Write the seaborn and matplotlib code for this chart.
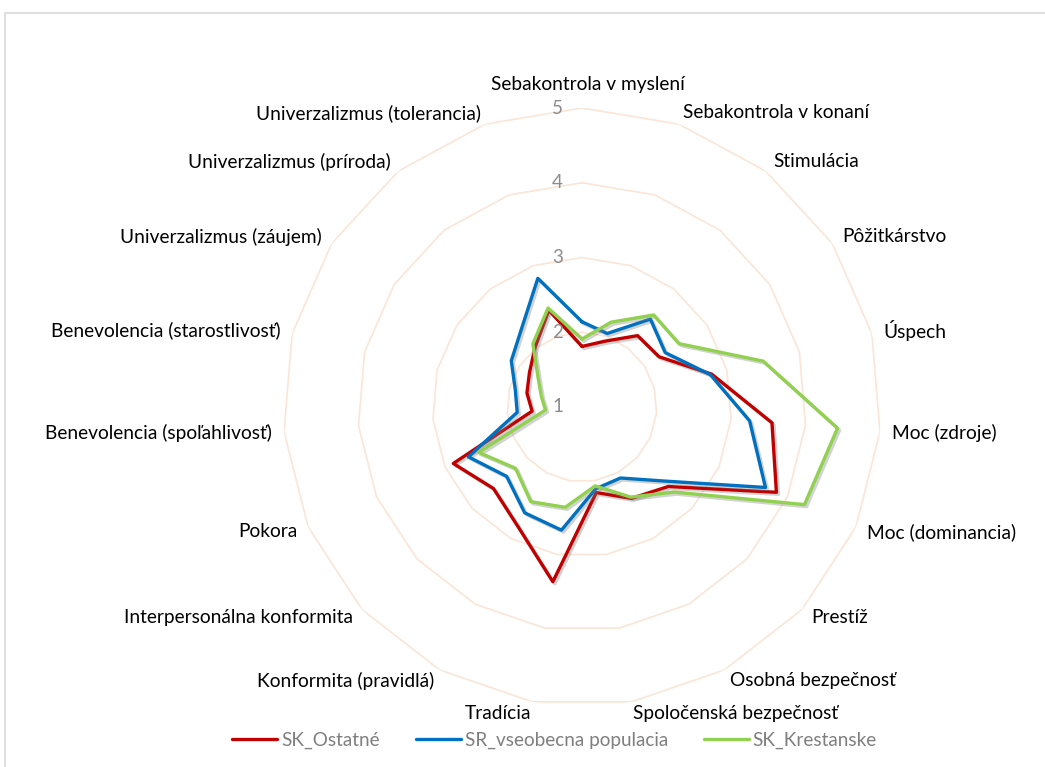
import numpy as np
import pandas as pd
import seaborn as sns
import matplotlib.pyplot as plt
import matplotlib.patheffects as pe
from matplotlib.lines import Line2D
from matplotlib.patches import Rectangle
from matplotlib.transforms import offset_copy

# categorias (en el orden del grafico, empezando arriba y en sentido horario)
kategorie = ["Sebakontrola v myslení", "Sebakontrola v konaní", "Stimulácia", "Pôžitkárstvo",
             "Úspech", "Moc (zdroje)", "Moc (dominancia)", "Prestíž", "Osobná bezpečnosť",
             "Spoločenská bezpečnosť", "Tradícia", "Konformita (pravidlá)",
             "Interpersonálna konformita", "Pokora", "Benevolencia (spoľahlivosť)",
             "Benevolencia (starostlivosť)", "Univerzalizmus (záujem)",
             "Univerzalizmus (príroda)", "Univerzalizmus (tolerancia)"]

sk_ostatne = [1.81, 1.93, 2.21, 2.23, 2.79, 3.55, 3.84, 2.57, 2.39, 2.16,
              3.37, 2.81, 2.61, 2.88, 1.67, 1.76, 1.84, 2.02, 2.37]
sr_populacia = [2.14, 2.04, 2.49, 2.33, 2.77, 3.25, 3.68, 2.46, 2.08, 2.11,
                2.67, 2.61, 2.37, 2.66, 1.87, 1.92, 2.13, 2.32, 2.82]
sk_krestanske = [1.91, 2.20, 2.56, 2.55, 3.50, 4.43, 4.25, 2.68, 2.37, 2.07,
                 2.36, 2.44, 2.21, 2.51, 1.49, 1.56, 1.70, 2.07, 2.40]

serie_nombres = ["SK_Ostatné", "SR_vseobecna populacia", "SK_Krestanske"]
colores = ["#C00000", "#0070C0", "#92D050"]
escala = [1, 2, 3, 4, 5]

sns.set_theme(style="white")
plt.rcParams["font.family"] = ["Lato", "DejaVu Sans"]

n = len(kategorie)
theta = np.arange(n) * 2 * np.pi / n

# tabla larga para seaborn, cerrando el poligono (el primer punto se repite en 2*pi)
filas = []
for nombre, vals in zip(serie_nombres, [sk_ostatne, sr_populacia, sk_krestanske]):
    for i in range(n):
        filas.append({"serie": nombre, "theta": theta[i], "valor": vals[i]})
    filas.append({"serie": nombre, "theta": 2 * np.pi, "valor": vals[0]})
df = pd.DataFrame(filas)

fig = plt.figure(figsize=(10.45, 7.67), dpi=100)

# marco gris del grafico
fig.patches.append(Rectangle((4.5 / 1045, -0.05), 1.1, (767 - 12.5) / 767 + 0.05,
                             transform=fig.transFigure, fill=False,
                             edgecolor="#D9D9D9", lw=1.2))

cx, cy, R = 582, 407, 299
ax = fig.add_axes([(cx - R) / 1045, (767 - cy - R) / 767, 2 * R / 1045, 2 * R / 767],
                  projection="polar")
ax.set_theta_offset(np.pi / 2)
ax.set_theta_direction(-1)
ax.set_ylim(1, 5)
ax.set_xticks([])
ax.set_yticks([])
ax.grid(False)
ax.spines["polar"].set_visible(False)
ax.patch.set_visible(False)

# anillos poligonales
t_cerrado = np.append(theta, 2 * np.pi)
for v in escala[1:]:
    ax.plot(t_cerrado, [v] * (n + 1), color="#FBE5D6", lw=1.2, zorder=0)

sns.lineplot(data=df, x="theta", y="valor", hue="serie", palette=colores,
             sort=False, estimator=None, ax=ax, linewidth=2.4, legend=False)
for ln in ax.lines[len(escala) - 1:]:
    ln.set_path_effects([pe.SimpleLineShadow(offset=(1.5, -1.5), shadow_color="#808080", alpha=0.35),
                         pe.Normal()])
ax.set_xlabel("")
ax.set_ylabel("")

# etiquetas de la escala
trans = offset_copy(ax.transData, fig=fig, x=-19, y=0, units="dots")
for v in escala:
    ax.text(0, v, str(v), transform=trans, ha="right", va="center",
            fontsize=13.5, color="#8C8C8C")

# etiquetas de categorias
trans_top = offset_copy(ax.transData, fig=fig, x=6, y=0, units="dots")
for i, (t, lab) in enumerate(zip(theta, kategorie)):
    s = np.sin(t)
    if abs(s) < 1e-6:
        ax.text(t, 5.32, lab, ha="center", va="center", fontsize=13.8, color="black",
                clip_on=False, transform=trans_top)
    else:
        ha = "left" if s > 0 else "right"
        ax.text(t, 5.16, lab, ha=ha, va="center", fontsize=13.8, color="black", clip_on=False)

handles = [Line2D([0], [0], color=c, lw=2.4) for c in colores]
fig.legend(handles, serie_nombres, loc="center", bbox_to_anchor=(554.5 / 1045, 27 / 767),
           ncol=3, frameon=False, fontsize=13.6, labelcolor="#7F7F7F",
           handlelength=2.38, handletextpad=0.21, columnspacing=1.9)

plt.savefig("out.png", dpi=100)
